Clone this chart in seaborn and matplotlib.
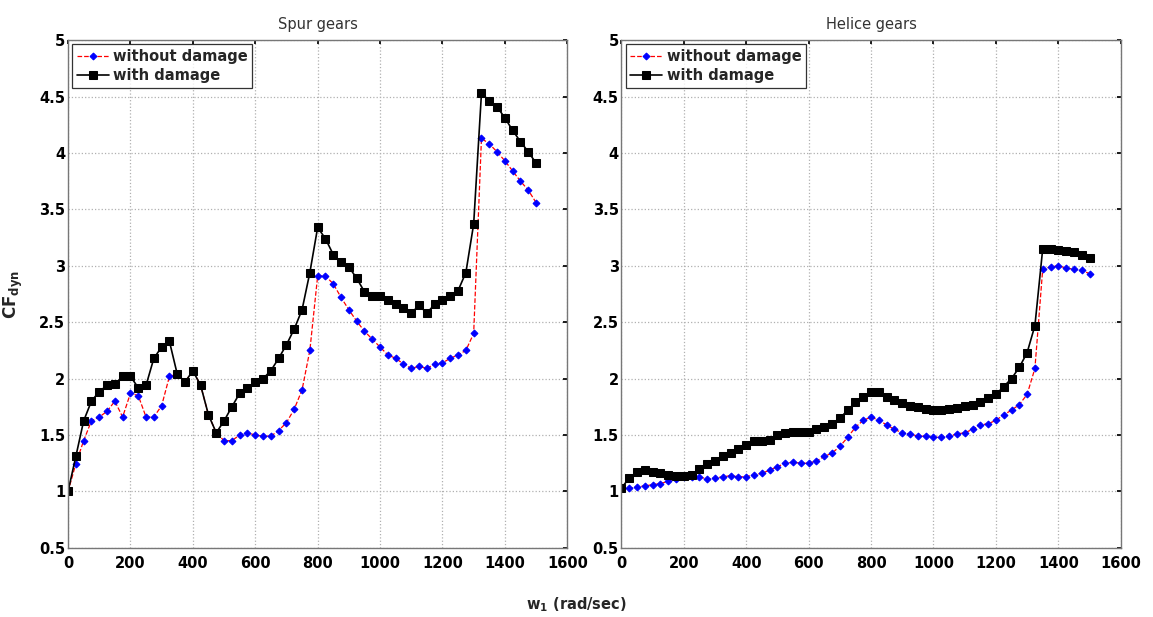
import numpy as np
import pandas as pd
import matplotlib
matplotlib.use("Agg")
import matplotlib.pyplot as plt
import seaborn as sns

# ---- data ----
w = list(range(0, 1501, 25))

spur_without = [1.00, 1.245, 1.45, 1.625, 1.66, 1.71, 1.80, 1.66, 1.87, 1.85,
                1.66, 1.66, 1.76, 2.02, 2.04, 1.97, 2.07, 1.94, 1.68, 1.52,
                1.45, 1.45, 1.50, 1.52, 1.50, 1.49, 1.49, 1.54, 1.61, 1.73,
                1.90, 2.25, 2.91, 2.91, 2.84, 2.72, 2.61, 2.51, 2.42, 2.35,
                2.28, 2.21, 2.18, 2.13, 2.09, 2.11, 2.09, 2.13, 2.14, 2.18,
                2.21, 2.25, 2.40, 4.13, 4.08, 4.01, 3.93, 3.84, 3.75, 3.67,
                3.56]
spur_with = [1.00, 1.31, 1.625, 1.80, 1.885, 1.94, 1.95, 2.02, 2.02, 1.92,
             1.94, 2.18, 2.28, 2.33, 2.04, 1.97, 2.07, 1.94, 1.68, 1.52,
             1.625, 1.75, 1.87, 1.92, 1.97, 2.00, 2.07, 2.18, 2.30, 2.44,
             2.61, 2.94, 3.34, 3.24, 3.10, 3.03, 2.99, 2.89, 2.77, 2.73,
             2.73, 2.70, 2.66, 2.63, 2.58, 2.65, 2.58, 2.66, 2.70, 2.73,
             2.78, 2.94, 3.37, 4.53, 4.46, 4.41, 4.31, 4.20, 4.10, 4.01,
             3.91]

helic_without = [1.03, 1.03, 1.04, 1.05, 1.06, 1.07, 1.09, 1.11, 1.13, 1.13,
                 1.13, 1.11, 1.12, 1.13, 1.14, 1.13, 1.13, 1.15, 1.16, 1.19,
                 1.22, 1.25, 1.26, 1.25, 1.25, 1.27, 1.31, 1.34, 1.40, 1.48,
                 1.57, 1.63, 1.66, 1.63, 1.59, 1.55, 1.52, 1.51, 1.49, 1.49,
                 1.48, 1.48, 1.49, 1.51, 1.52, 1.55, 1.59, 1.60, 1.63, 1.68,
                 1.72, 1.77, 1.86, 2.09, 2.97, 2.99, 3.00, 2.98, 2.97, 2.96,
                 2.93]
helic_with = [1.03, 1.12, 1.17, 1.19, 1.17, 1.16, 1.15, 1.14, 1.14, 1.15,
              1.20, 1.24, 1.27, 1.31, 1.34, 1.38, 1.41, 1.45, 1.45, 1.46,
              1.50, 1.52, 1.53, 1.53, 1.53, 1.55, 1.57, 1.60, 1.65, 1.72,
              1.79, 1.84, 1.88, 1.88, 1.84, 1.81, 1.78, 1.76, 1.75, 1.73,
              1.72, 1.72, 1.73, 1.74, 1.76, 1.77, 1.79, 1.83, 1.86, 1.93,
              2.00, 2.10, 2.23, 2.47, 3.15, 3.15, 3.14, 3.13, 3.12, 3.10,
              3.07]

titles = ["Spur gears", "Helice gears"]
series_labels = ["without damage", "with damage"]
xticks = [0, 200, 400, 600, 800, 1000, 1200, 1400, 1600]
yticks = [0.5, 1, 1.5, 2, 2.5, 3, 3.5, 4, 4.5, 5]
ytick_labels = ["0.5", "1", "1.5", "2", "2.5", "3", "3.5", "4", "4.5", "5"]

# ---- style ----
sns.set_theme(style="whitegrid")
plt.rcParams['font.family'] = ['DejaVu Sans']

fig = plt.figure(figsize=(11.53, 6.17), dpi=100)
ax1 = fig.add_axes([0.059, 0.112, 0.433, 0.823])
ax2 = fig.add_axes([0.539, 0.112, 0.433, 0.823])

datasets = [(ax1, spur_without, spur_with, titles[0]),
            (ax2, helic_without, helic_with, titles[1])]

for ax, y_wo, y_w, title in datasets:
    sns.lineplot(x=w, y=y_wo, ax=ax, color="red", linestyle="--", linewidth=0.9,
                 marker="D", markersize=3.5, markerfacecolor="blue",
                 markeredgecolor="blue", label=series_labels[0])
    sns.lineplot(x=w, y=y_w, ax=ax, color="black", linestyle="-", linewidth=1.2,
                 marker="s", markersize=6, markerfacecolor="black",
                 markeredgecolor="black", label=series_labels[1])
    ax.set_xlim(0, 1600)
    ax.set_ylim(0.5, 5)
    ax.set_xticks(xticks)
    ax.set_yticks(yticks)
    ax.set_xticklabels([str(t) for t in xticks], fontweight="bold", fontsize=10.5)
    ax.set_yticklabels(ytick_labels, fontweight="bold", fontsize=10.5)
    ax.grid(True, color="#b0b0b0", linestyle=":", linewidth=0.9)
    ax.set_facecolor("white")
    for sp in ax.spines.values():
        sp.set_color("#777777")
        sp.set_linewidth(1.0)
    ax.tick_params(axis="both", direction="in", length=3, colors="black",
                   top=True, right=True)
    ax.tick_params(axis="x", pad=6)
    ax.tick_params(axis="y", pad=2)
    ax.set_title(title, fontsize=10.5, color="#333333", pad=8)
    ax.set_xlabel("")
    ax.set_ylabel("")
    leg = ax.legend(loc="upper left", fontsize=10.5, frameon=True, fancybox=False,
                    borderpad=0.3, handlelength=2.2, handletextpad=0.3,
                    labelspacing=0.3, borderaxespad=0.3)
    leg.get_frame().set_edgecolor("black")
    leg.get_frame().set_linewidth(0.9)
    for txt in leg.get_texts():
        txt.set_fontweight("bold")

ax1.set_ylabel(r"$\mathbf{CF}_{\mathbf{dyn}}$", fontsize=12, labelpad=10)
fig.text(0.5, 0.005, r"$\mathbf{w}_{\mathbf{1}}$ (rad/sec)", ha="center", va="bottom",
         fontsize=10.5, fontweight="bold")

fig.savefig("out.png", dpi=100, facecolor="white")
